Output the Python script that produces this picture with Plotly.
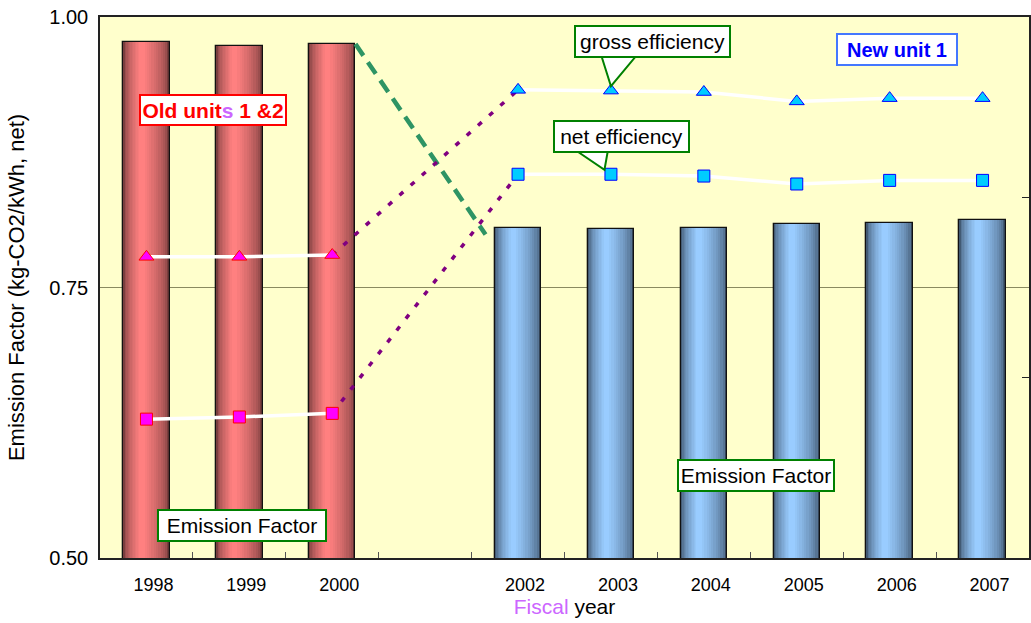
import plotly.graph_objects as go

# ---------------- data ----------------
years_old = [1998, 1999, 2000]
years_new = [2002, 2003, 2004, 2005, 2006, 2007]
tick_years = [1998, 1999, 2000, 2002, 2003, 2004, 2005, 2006, 2007]
all_years = [1998, 1999, 2000, 2001, 2002, 2003, 2004, 2005, 2006, 2007]

ef_old = [0.977, 0.973, 0.975]                       # emission factor, old units 1&2
ef_new = [0.805, 0.804, 0.805, 0.809, 0.810, 0.812]  # emission factor, new unit 1

gross_old = [38.35, 38.35, 38.40]   # gross efficiency (secondary axis, unlabeled)
net_old = [33.85, 33.91, 34.01]     # net efficiency
gross_new = [42.98, 42.96, 42.92, 42.66, 42.75, 42.75]
net_new = [40.64, 40.64, 40.59, 40.37, 40.47, 40.47]

Y_RANGE = [0.5, 1.0]
Y2_RANGE = [30, 45]

FONT = "Liberation Sans, Arial, sans-serif"
BAR_W = 0.5


def hex2rgb(h):
    h = h.lstrip("#")
    return tuple(int(h[i:i + 2], 16) for i in (0, 2, 4))


def mix(c1, c2, t):
    a, b = hex2rgb(c1), hex2rgb(c2)
    return "rgb(%d,%d,%d)" % tuple(round(a[k] + (b[k] - a[k]) * t) for k in range(3))


def y2_to_y(v):
    return Y_RANGE[0] + (v - Y2_RANGE[0]) / (Y2_RANGE[1] - Y2_RANGE[0]) * (Y_RANGE[1] - Y_RANGE[0])


fig = go.Figure()


def cylinder(xs, ys, dark, light):
    n = 12
    for i in range(n):
        t = i / (n - 1)
        w = BAR_W * (1 - 0.88 * t)
        c = -0.10 * BAR_W * t
        fig.add_trace(go.Bar(
            x=xs, y=ys, width=w, offset=c - w / 2,
            marker=dict(color=mix(dark, light, t ** 0.6), line=dict(width=0)),
            showlegend=False, hoverinfo="skip"))
    fig.add_trace(go.Bar(
        x=xs, y=ys, width=BAR_W, offset=-BAR_W / 2,
        marker=dict(color="rgba(0,0,0,0)", line=dict(color="#111111", width=1.3)),
        showlegend=False, hoverinfo="skip"))


cylinder(years_old, ef_old, "#7a3e3e", "#ff8080")
cylinder(years_new, ef_new, "#425a74", "#99ccff")

# green dashed connector between emission-factor bars
fig.add_trace(go.Scatter(
    x=[years_old[-1] + BAR_W / 2, years_new[0] - BAR_W / 2 - 0.1],
    y=[ef_old[-1], ef_new[0] - 0.006],
    mode="lines", line=dict(color="#2e9464", width=4.5, dash="14px,8px"),
    showlegend=False, hoverinfo="skip"))

# purple dotted connectors for efficiencies
for a, b in ((gross_old, gross_new), (net_old, net_new)):
    fig.add_trace(go.Scatter(
        x=[years_old[-1], years_new[0]], y=[a[-1], b[0]], yaxis="y2",
        mode="lines", line=dict(color="#800080", width=3.5, dash="5px,10px"),
        showlegend=False, hoverinfo="skip"))

# efficiency lines
for xs, ys, sym, fill, edge in (
        (years_old, gross_old, "triangle-up", "#ff00ff", "#ff0000"),
        (years_old, net_old, "square", "#ff00ff", "#ff0000"),
        (years_new, gross_new, "triangle-up", "#00ccff", "#0000ff"),
        (years_new, net_new, "square", "#00ccff", "#0000ff")):
    fig.add_trace(go.Scatter(
        x=xs, y=ys, yaxis="y2", mode="lines+markers",
        line=dict(color="white", width=3.5),
        marker=dict(symbol=sym, size=13 if sym == "triangle-up" else 12,
                    color=fill, line=dict(color=edge, width=1)),
        showlegend=False, hoverinfo="skip"))

# callout wedges (left-axis coordinates)
wedges = [
    # (base x0, base x1, base y, tip x, tip y)
    (2002.89, 2003.29, 0.966, years_new[1], y2_to_y(gross_new[1]) + 0.004),
    (2002.60, 2002.97, 0.878, years_new[1] - 0.07, y2_to_y(net_new[1]) + 0.004),
]
shapes = []
for x0, x1, yb, xt, yt in wedges:
    shapes.append(dict(
        type="path", xref="x", yref="y",
        path="M %f,%f L %f,%f L %f,%f Z" % (x0, yb, xt, yt, x1, yb),
        fillcolor="white", line=dict(color="#008000", width=2), layer="above"))


def box(text, x, y, w, h, border, color="#000000", size=21):
    return dict(x=x, y=y, xref="x", yref="y", text=text, showarrow=False,
                font=dict(family=FONT, size=size, color=color),
                bgcolor="white", bordercolor=border, borderwidth=2,
                borderpad=0, width=w, height=h, align="center")


annotations = [
    box("<b>Old unit<span style='color:#cc66ff'>s</span> 1 &amp;2</b>", 1998.718, 0.914, 144, 28,
        "#ff0000", color="#ff0000", size=21),
    box("<b>New unit 1</b>", 2006.078, 0.970, 118, 29, "#4477ff", color="#0000ff", size=20),
    box("gross efficiency", 2003.443, 0.9774, 153, 29, "#008000"),
    box("net efficiency", 2003.109, 0.8891, 133, 29, "#008000"),
    box("Emission Factor", 1999.03, 0.5305, 166, 29, "#008000"),
    box("Emission Factor", 2004.558, 0.5762, 154, 29, "#008000"),
]

fig.update_layout(
    width=1031, height=623,
    margin=dict(l=100, r=2, t=17, b=65),
    paper_bgcolor="white", plot_bgcolor="#ffffcc",
    barmode="overlay", bargap=0,
    font=dict(family=FONT, color="#000000"),
    shapes=shapes, annotations=annotations,
    xaxis=dict(
        range=[all_years[0] - 0.5, all_years[-1] + 0.5],
        tickvals=tick_years, ticktext=[str(y) for y in tick_years],
        ticks="", tickfont=dict(size=18), ticklabelstandoff=10, ticklabelshift=7,
        showgrid=False, zeroline=False,
        showline=True, linecolor="#222222", linewidth=1.5, mirror=True,
        minor=dict(tickvals=[y + 0.5 for y in all_years[:-1]], ticks="inside",
                   ticklen=6, tickcolor="#555555", showgrid=False),
        title=dict(text="<span style='color:#cc66ff'>Fiscal</span> year",
                   font=dict(size=21), standoff=4),
    ),
    yaxis=dict(
        range=Y_RANGE, tickvals=[0.5, 0.75, 1.0], tickformat=".2f",
        ticks="", tickfont=dict(size=20), ticklabelstandoff=6,
        showgrid=True, gridcolor="#8a8a60", gridwidth=1, zeroline=False,
        showline=True, linecolor="#222222", linewidth=1.5,
        title=dict(text="Emission Factor (kg-CO2/kWh, net)", font=dict(size=22), standoff=19),
    ),
    yaxis2=dict(
        range=Y2_RANGE, overlaying="y", side="right", dtick=5,
        ticks="inside", ticklen=7, tickcolor="#222222", showticklabels=False,
        showgrid=False, zeroline=False,
        showline=True, linecolor="#222222", linewidth=1.5,
    ),
)

fig.write_html("out.html", config={"displayModeBar": False},
               post_script="document.body.style.margin='0';document.body.style.overflow='hidden';")
